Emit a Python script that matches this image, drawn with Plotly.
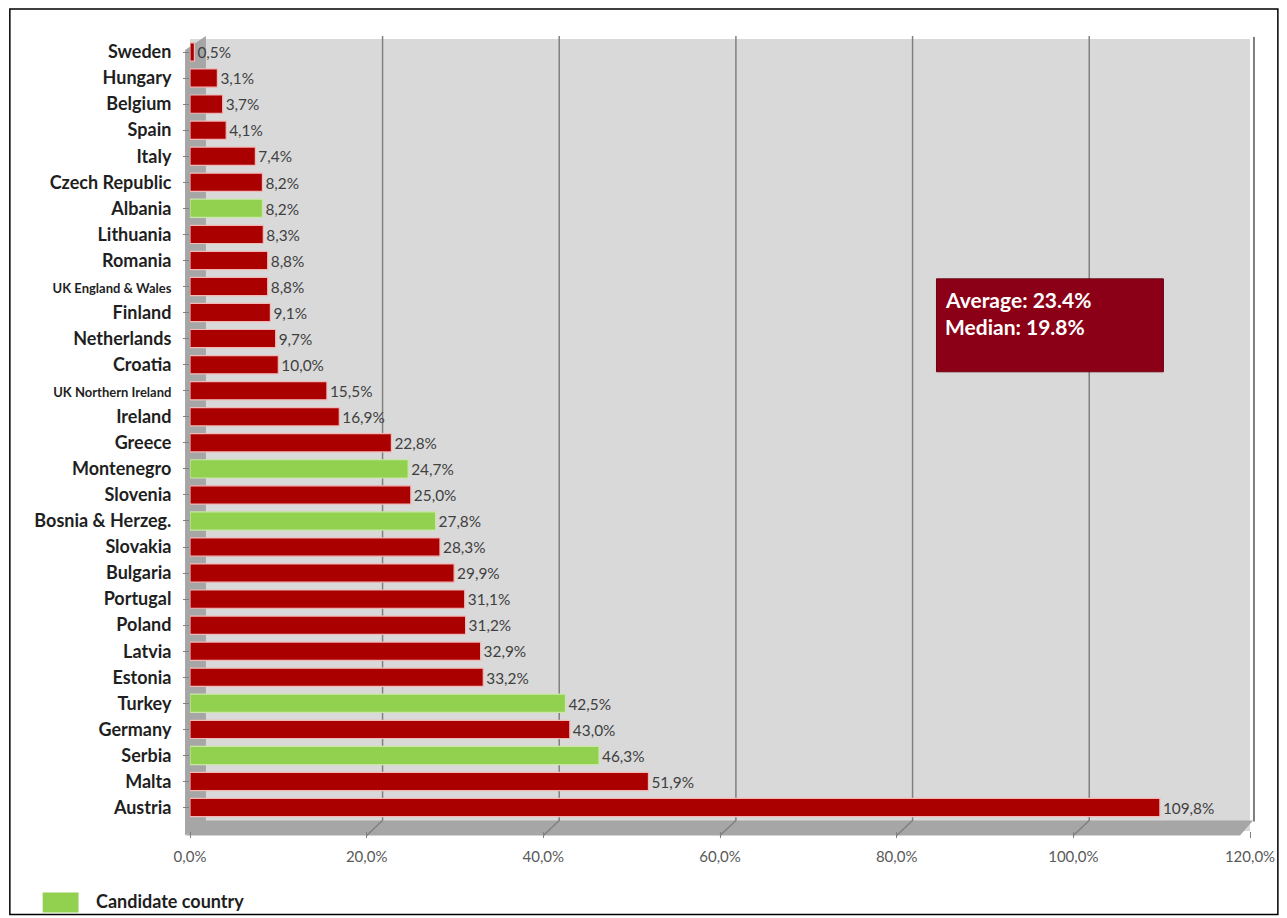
import plotly.graph_objects as go

countries = ["Sweden", "Hungary", "Belgium", "Spain", "Italy", "Czech Republic", "Albania",
             "Lithuania", "Romania", "UK England & Wales", "Finland", "Netherlands", "Croatia",
             "UK Northern Ireland", "Ireland", "Greece", "Montenegro", "Slovenia",
             "Bosnia & Herzeg.", "Slovakia", "Bulgaria", "Portugal", "Poland", "Latvia",
             "Estonia", "Turkey", "Germany", "Serbia", "Malta", "Austria"]
values = [0.5, 3.1, 3.7, 4.1, 7.4, 8.2, 8.2, 8.3, 8.8, 8.8, 9.1, 9.7, 10.0, 15.5, 16.9, 22.8,
          24.7, 25.0, 27.8, 28.3, 29.9, 31.1, 31.2, 32.9, 33.2, 42.5, 43.0, 46.3, 51.9, 109.8]
candidate = ["Albania", "Montenegro", "Bosnia & Herzeg.", "Turkey", "Serbia"]
x_ticks = [0, 20, 40, 60, 80, 100, 120]
x_tick_labels = ["0,0%", "20,0%", "40,0%", "60,0%", "80,0%", "100,0%", "120,0%"]
summary_lines = ["Average: 23.4%", "Median: 19.8%"]
legend_label = "Candidate country"

RED, GREEN = "#ab0000", "#92d050"
RED_LINE, GREEN_LINE = "#f2b8b8", "#c9e8a6"
FONT = "Lato, Open Sans, sans-serif"
DEPTH = 1.8  # 3D depth offset of the back wall, in axis units

# page body has an 8px margin, so the figure is laid out in (reference - 8) coordinates
OFF = 8
W, H = 1287 - OFF, 918 - OFF
L, R, T, B = 190 - OFF, 1255 - OFF, 39 - OFF, 831.5 - OFF


def px(x):
    return (x - OFF - L) / (R - L)


def py(y):
    return 1 - (y - OFF - T) / (B - T)


small = {"UK England & Wales", "UK Northern Ireland"}
tick_text = [f"<span style='font-size:13px'>{c}</span>" if c in small else c for c in countries]
colors = [GREEN if c in candidate else RED for c in countries]
line_colors = [GREEN_LINE if c in candidate else RED_LINE for c in countries]
labels = [f"{v:.1f}".replace(".", ",") + "%" for v in values]

fig = go.Figure()
fig.add_trace(go.Bar(
    y=countries, x=values, orientation="h",
    marker=dict(color=colors, line=dict(color=line_colors, width=1.2)),
    text=labels, textposition="outside", cliponaxis=False,
    textfont=dict(family=FONT, size=16, color="#404040"),
    showlegend=False, hoverinfo="x+y",
))

shapes = [
    # floor of the 3D plot
    dict(type="path", xref="paper", yref="paper", layer="below",
         path=f"M {px(186)} {py(836)} L {px(1245)} {py(836)} L {px(1258)} {py(821)} L {px(199)} {py(821)} Z",
         fillcolor="#a6a6a6", line=dict(width=0)),
    # left side wall
    dict(type="path", xref="paper", yref="paper", layer="below",
         path=f"M {px(185)} {py(836)} L {px(185)} {py(50)} L {px(206)} {py(36)} L {px(206)} {py(821)} Z",
         fillcolor="#a6a6a6", line=dict(width=0)),
    # right edge of back wall
    dict(type="line", xref="paper", yref="paper", x0=px(1259), x1=px(1259), y0=py(37), y1=py(822),
         line=dict(color="#7f7f7f", width=2)),
    # summary box
    dict(type="rect", xref="paper", yref="paper", x0=px(940), x1=px(1168), y0=py(279), y1=py(372),
         fillcolor="#8b0016", line=dict(color="#6e0010", width=1)),
    # legend swatch
    dict(type="rect", xref="paper", yref="paper", x0=px(42), x1=px(78), y0=py(893), y1=py(913),
         fillcolor=GREEN, line=dict(width=0)),
    # outer border (drawn at the figure edges)
    dict(type="rect", xref="paper", yref="paper", x0=px(OFF + 1), x1=px(1283), y0=py(OFF + 1), y1=py(915),
         line=dict(color="#000000", width=1.5)),
]
# back-wall gridlines with the little diagonal to the front tick
for t in x_ticks[1:-1]:
    shapes.append(dict(type="path", xref="x", yref="paper", layer="below",
                       path=f"M {t + DEPTH} {py(36)} L {t + DEPTH} {py(821)} L {t} {py(836)}",
                       line=dict(color="#808080", width=1.5)))

annotations = [
    dict(xref="paper", yref="paper", x=px(947), y=py(300), xanchor="left", yanchor="middle",
         text=f"<b>{summary_lines[0]}</b>", showarrow=False,
         font=dict(family=FONT, size=21, color="#ffffff")),
    dict(xref="paper", yref="paper", x=px(947), y=py(327), xanchor="left", yanchor="middle",
         text=f"<b>{summary_lines[1]}</b>", showarrow=False,
         font=dict(family=FONT, size=21, color="#ffffff")),
    dict(xref="paper", yref="paper", x=px(94), y=py(902), xanchor="left", yanchor="middle",
         text=f"<b>{legend_label}</b>", showarrow=False,
         font=dict(family=FONT, size=18, color="#1f1f1f")),
]

fig.update_layout(
    width=W, height=H,
    margin=dict(l=L, r=W - R, t=T, b=H - B, pad=0),
    paper_bgcolor="#ffffff", plot_bgcolor="#d9d9d9",
    bargap=0.3,
    shapes=shapes, annotations=annotations,
    font=dict(family=FONT),
    xaxis=dict(range=[0, 120], tickvals=x_ticks, ticktext=x_tick_labels,
               showgrid=False, zeroline=False,
               ticks="outside", ticklen=6, tickcolor="#808080", ticklabelstandoff=6,
               tickfont=dict(size=15, color="#595959"), showline=False),
    yaxis=dict(categoryorder="array", categoryarray=countries, range=[29.9, -0.5],
               tickvals=countries, ticktext=tick_text,
               ticks="outside", ticklen=6, tickcolor="#808080", ticklabelstandoff=8,
               tickfont=dict(size=18, color="#1f1f1f", family=FONT, weight="bold"),
               showgrid=False, zeroline=False, showline=False),
)

fig.write_html("out.html")
